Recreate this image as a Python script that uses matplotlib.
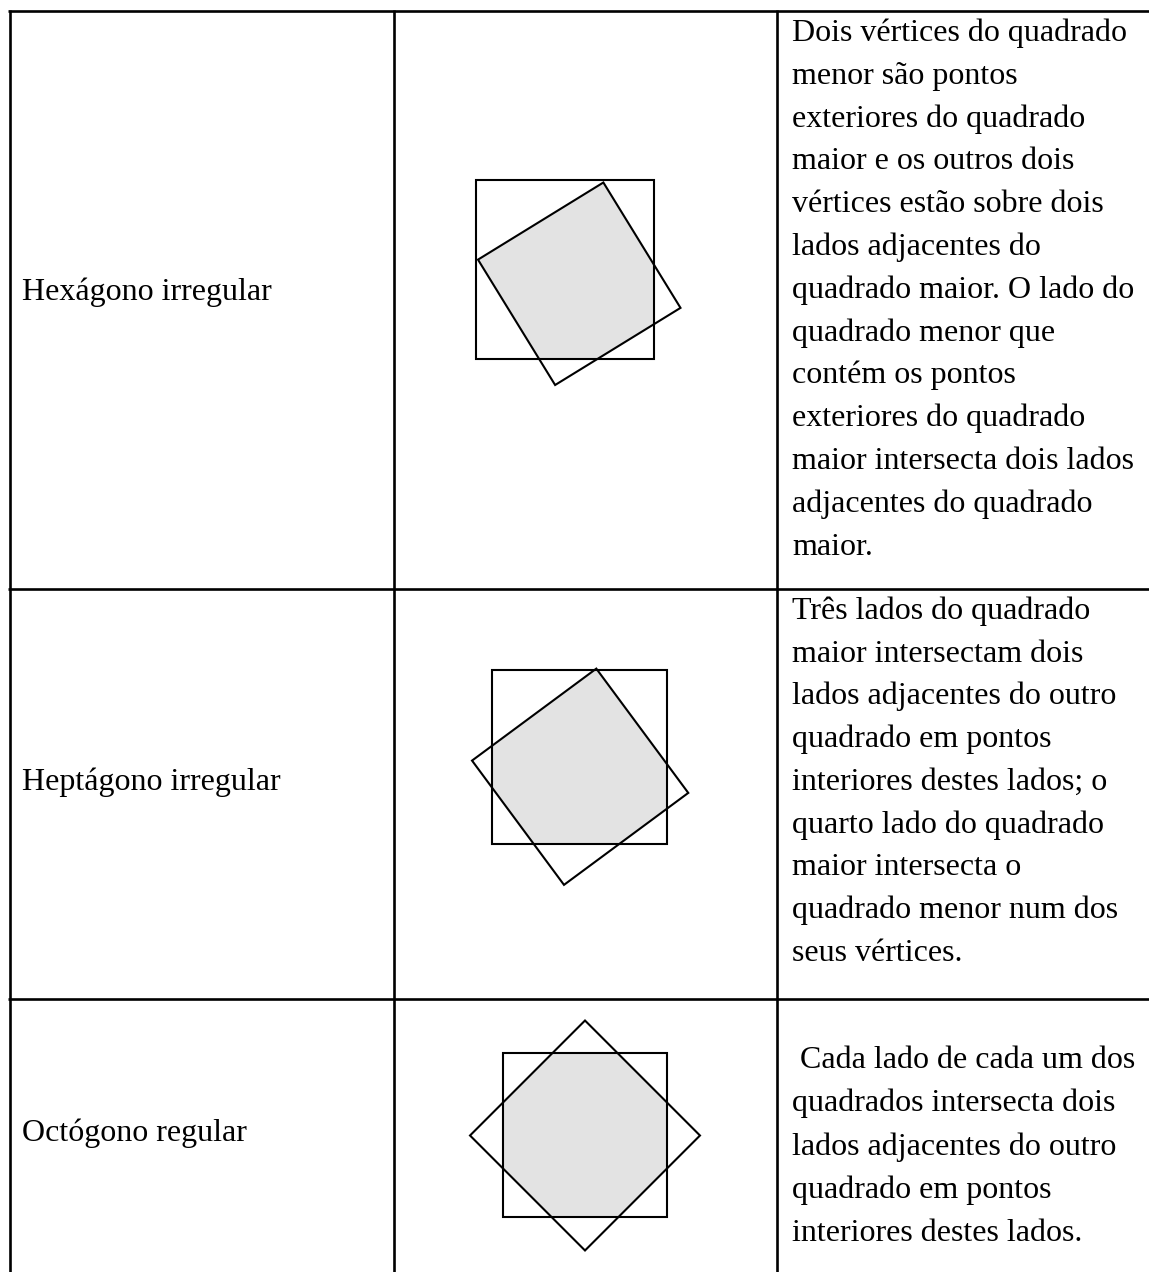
import numpy as np
import matplotlib
matplotlib.use("Agg")
import matplotlib.pyplot as plt
from matplotlib.patches import Polygon

# ---------------- data ----------------
names = ["Hexágono irregular", "Heptágono irregular", "Octógono regular"]

descriptions = [
    ["Dois vértices do quadrado",
     "menor são pontos",
     "exteriores do quadrado",
     "maior e os outros dois",
     "vértices estão sobre dois",
     "lados adjacentes do",
     "quadrado maior. O lado do",
     "quadrado menor que",
     "contém os pontos",
     "exteriores do quadrado",
     "maior intersecta dois lados",
     "adjacentes do quadrado",
     "maior."],
    ["Três lados do quadrado",
     "maior intersectam dois",
     "lados adjacentes do outro",
     "quadrado em pontos",
     "interiores destes lados; o",
     "quarto lado do quadrado",
     "maior intersecta o",
     "quadrado menor num dos",
     "seus vértices."],
    [" Cada lado de cada um dos",
     "quadrados intersecta dois",
     "lados adjacentes do outro",
     "quadrado em pontos",
     "interiores destes lados."],
]

# geometry of the two squares in each row (pixel units of the figure)
big_center_x = [565.0, 579.5, 585.0]
big_center_y = [269.5, 757.0, 1135.0]
big_side = [178.5, 174.5, 164.0]

small_center_x = [579.25, 580.15, 585.0]
small_center_y = [283.75, 776.75, 1135.5]
small_side = [147.2, 154.6, 162.6]
small_rotation = [-31.6, -36.5, 45.0]   # degrees

# ---------------- layout ----------------
W, H = 1149, 1272
fig = plt.figure(figsize=(W / 100, H / 100), dpi=100)
ax = fig.add_axes([0, 0, 1, 1])
ax.set_xlim(0, W)
ax.set_ylim(H, 0)
ax.axis("off")

row_tops = [10.7, 589.0, 999.0]
col_x = [10.0, 394.0, 777.0]
line_col = "black"
tlw = 1.9

for y in row_tops:
    ax.plot([8, W], [y, y], color=line_col, lw=tlw, solid_capstyle="butt")
for x in col_x:
    ax.plot([x, x], [row_tops[0] - 1, H], color=line_col, lw=tlw, solid_capstyle="butt")

font = dict(family=["Liberation Serif", "DejaVu Serif"], fontsize=23.0, color="black")

name_baselines = [300, 790, 1141]
desc_first_baseline = [41, 619, 1068]
desc_spacing = [42.8, 42.7, 43.3]

for i, nm in enumerate(names):
    ax.text(22, name_baselines[i], nm, va="baseline", ha="left", **font)
    for j, line in enumerate(descriptions[i]):
        ax.text(792, desc_first_baseline[i] + j * desc_spacing[i], line,
                va="baseline", ha="left", **font)

shape_lw = 1.5
fill_col = "#e3e3e3"

for i in range(3):
    cx, cy, s = big_center_x[i], big_center_y[i], big_side[i]
    big = np.array([[cx - s / 2, cy - s / 2], [cx + s / 2, cy - s / 2],
                    [cx + s / 2, cy + s / 2], [cx - s / 2, cy + s / 2]])
    h = small_side[i] / np.sqrt(2)
    angs = np.deg2rad(small_rotation[i] + 45 + 90 * np.arange(4))
    small = np.column_stack([small_center_x[i] + h * np.cos(angs),
                             small_center_y[i] + h * np.sin(angs)])

    clip = Polygon(big, closed=True, facecolor="none", edgecolor="none")
    ax.add_patch(clip)
    fillp = Polygon(small, closed=True, facecolor=fill_col, edgecolor="none")
    ax.add_patch(fillp)
    fillp.set_clip_path(clip)

    ax.add_patch(Polygon(big, closed=True, facecolor="none", edgecolor="black",
                         lw=shape_lw, joinstyle="miter"))
    ax.add_patch(Polygon(small, closed=True, facecolor="none", edgecolor="black",
                         lw=shape_lw, joinstyle="miter"))

fig.savefig("out.png", dpi=100, facecolor="white")
